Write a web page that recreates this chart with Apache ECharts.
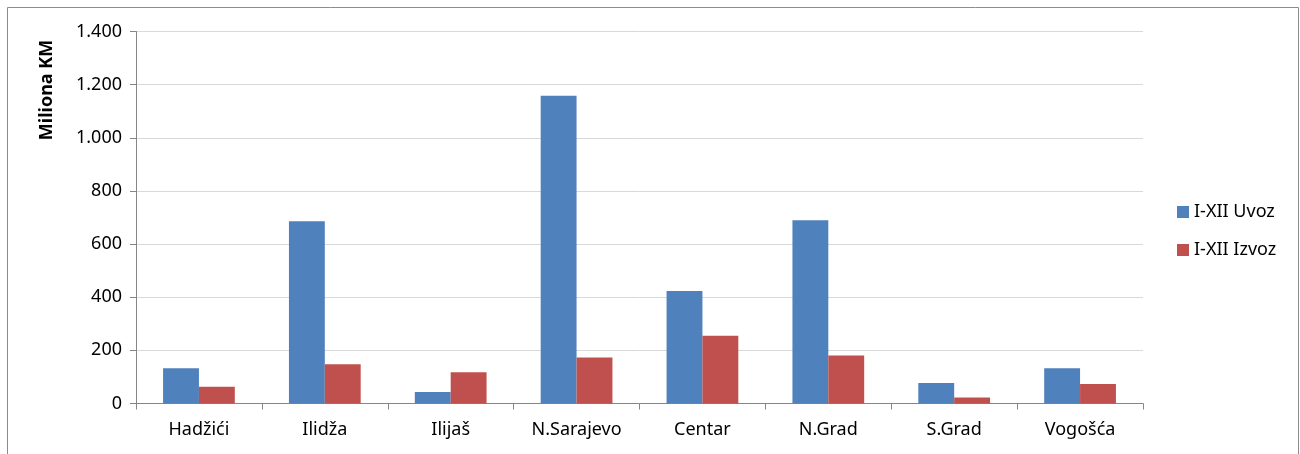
<!DOCTYPE html>
<html>
<head>
<meta charset="utf-8">
<script src="https://cdn.jsdelivr.net/npm/echarts@6/dist/echarts.min.js"></script>
<style>
html, body { margin: 0; padding: 0; background: #fff; }
#main { width: 1300px; height: 454px; }
</style>
</head>
<body>
<div id="main"></div>
<script>
var categories = ["Hadžići", "Ilidža", "Ilijaš", "N.Sarajevo", "Centar", "N.Grad", "S.Grad", "Vogošća"];
var uvoz = [133, 686, 43, 1158, 423, 690, 77, 133];
var izvoz = [63, 148, 118, 173, 255, 181, 23, 73];
var seriesNames = ["I-XII Uvoz", "I-XII Izvoz"];

var font = "Noto Sans";

function fmt(v) {
	// tacka kao separator hiljada
	return String(v).replace(/\B(?=(\d{3})+(?!\d))/g, ".");
}

var chart = echarts.init(document.getElementById("main"));
chart.setOption({
	animation: false,
	color: ["#4f81bd", "#c0504d"],
	textStyle: { fontFamily: font },
	grid: { left: 136, right: 157, top: 31.5, bottom: 50.5, containLabel: false },
	legend: {
		orient: "vertical",
		left: 1172,
		top: 198,
		itemWidth: 12,
		itemHeight: 12,
		itemGap: 20,
		icon: "rect",
		textStyle: { fontSize: 18, color: "#000", fontFamily: font },
		data: seriesNames
	},
	xAxis: {
		type: "category",
		data: categories,
		axisLine: { lineStyle: { color: "#868686", width: 1 } },
		axisTick: { show: true, length: 6, lineStyle: { color: "#868686" } },
		axisLabel: { color: "#000", fontSize: 18, margin: 17, fontFamily: font }
	},
	yAxis: {
		type: "value",
		min: 0,
		max: 1400,
		interval: 200,
		axisLine: { show: true, lineStyle: { color: "#868686", width: 1 } },
		axisTick: { show: true, length: 6, lineStyle: { color: "#868686" } },
		axisLabel: { color: "#000", fontSize: 18, margin: 14, fontFamily: font, formatter: fmt },
		splitLine: { lineStyle: { color: "#d9d9d9", width: 1 } }
	},
	graphic: [
		{
			type: "rect",
			shape: { x: 7.5, y: 7.5, width: 1291, height: 460 },
			style: { fill: "none", stroke: "#8c8c8c", lineWidth: 1 },
			silent: true
		},
		{
			type: "text",
			x: 47,
			y: 90,
			rotation: Math.PI / 2,
			style: {
				text: "Miliona KM",
				font: "bold 18px " + font,
				fill: "#000",
				textAlign: "center",
				textVerticalAlign: "middle"
			}
		}
	],
	series: [
		{
			name: seriesNames[0],
			type: "bar",
			data: uvoz,
			barGap: "0%",
			barCategoryGap: "43%"
		},
		{
			name: seriesNames[1],
			type: "bar",
			data: izvoz,
			barGap: "0%",
			barCategoryGap: "43%"
		}
	]
});
</script>
</body>
</html>
